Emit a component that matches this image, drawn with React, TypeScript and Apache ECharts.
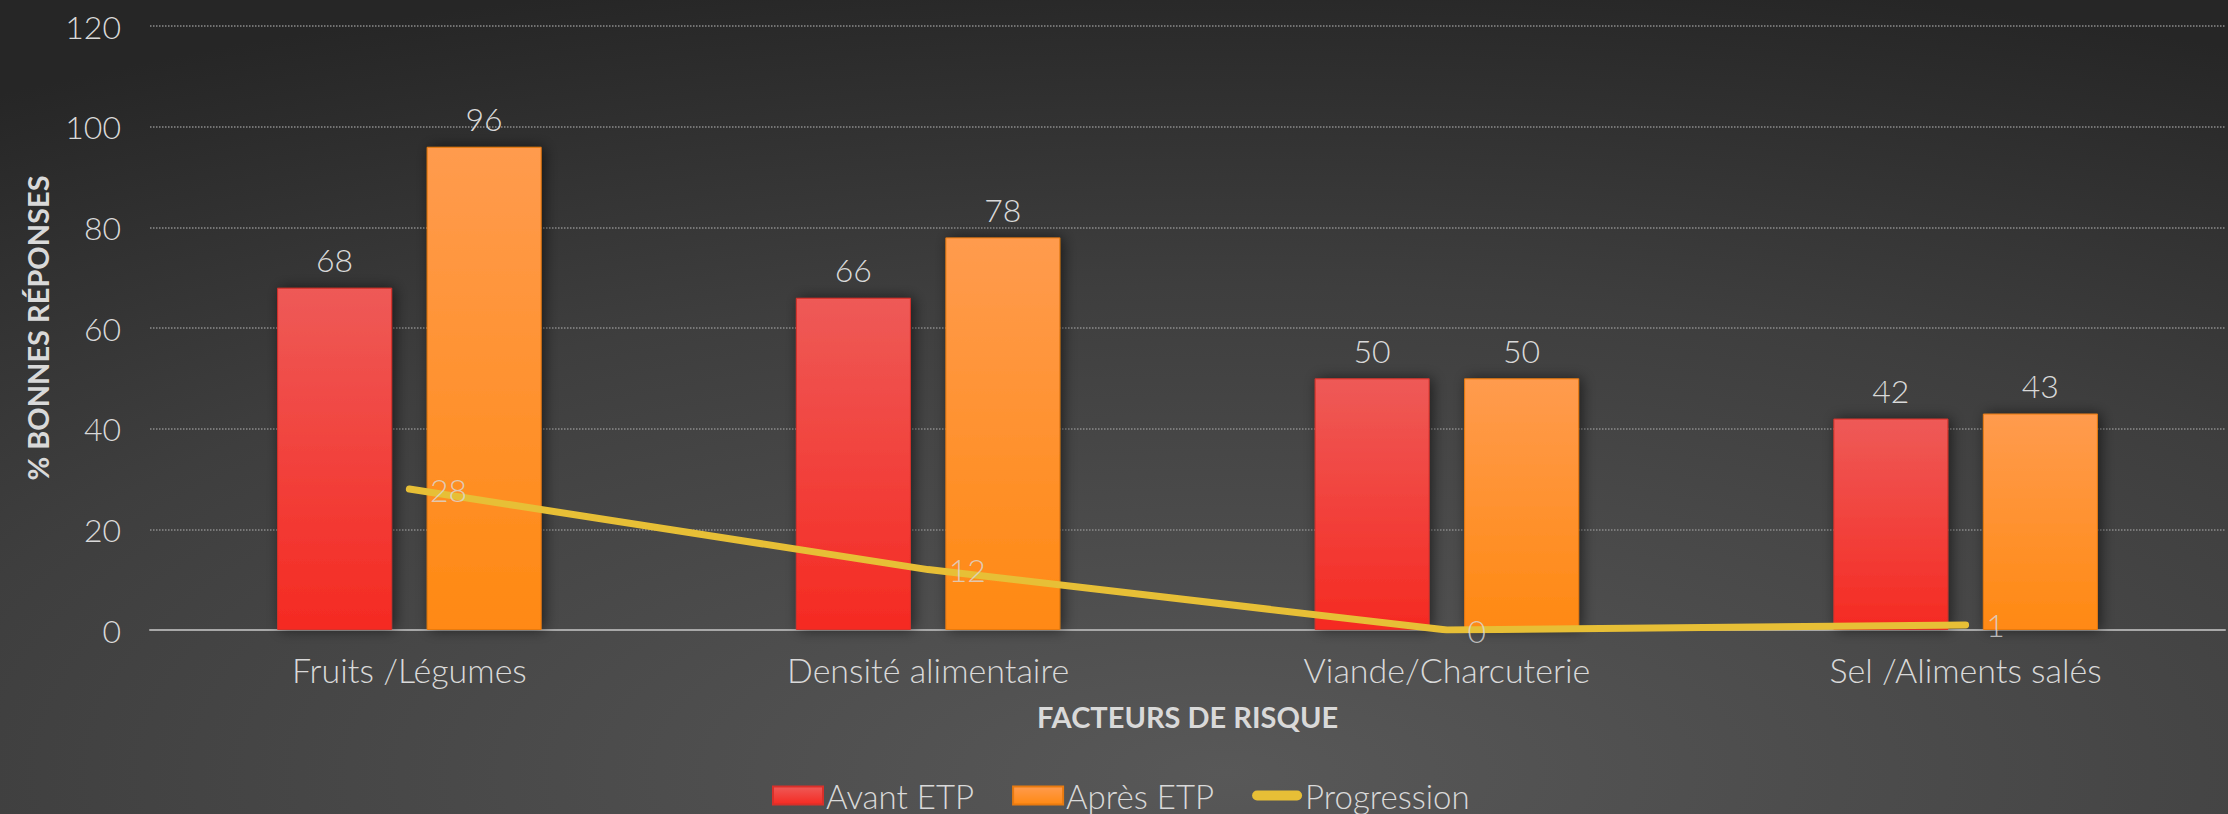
import React, { useEffect, useRef } from "react";
import * as echarts from "echarts";

const categories = ["Fruits /Légumes", "Densité alimentaire", "Viande/Charcuterie", "Sel /Aliments salés"];
const avantETP = [68, 66, 50, 42];
const apresETP = [96, 78, 50, 43];
const progression = [28, 12, 0, 1];
const yTicks = { min: 0, max: 120, interval: 20 };

const FONT = "Lato, 'Noto Sans', sans-serif";
const TXT = "#d9d9d9";
const LINE = "#E7BF36";
const LINE_ICON = "path://M5,0 L45,0 A5,5 0 0 1 45,10 L5,10 A5,5 0 0 1 5,0 Z";

export default function App() {
  const ref = useRef<HTMLDivElement>(null);
  useEffect(() => {
    document.body.style.margin = "0";
    const chart = echarts.init(ref.current!, null, { renderer: "svg" });
    const redGrad = new echarts.graphic.LinearGradient(0, 0, 0, 1, [
      { offset: 0, color: "#EE5A57" },
      { offset: 1, color: "#F52A22" },
    ]);
    const orangeGrad = new echarts.graphic.LinearGradient(0, 0, 0, 1, [
      { offset: 0, color: "#FF9B4E" },
      { offset: 1, color: "#FF8912" },
    ]);
    const lbl = { color: TXT, fontSize: 32, fontWeight: 300, fontFamily: FONT };
    chart.setOption({
      animation: false,
      backgroundColor: new echarts.graphic.RadialGradient(0.55, 0.95, 1.0, [
        { offset: 0, color: "#585858" },
        { offset: 0.6, color: "#3e3e3e" },
        { offset: 1, color: "#262626" },
      ]),
      textStyle: { fontFamily: FONT },
      grid: { left: 150, right: 3, top: 26, bottom: 184, containLabel: false },
      legend: {
        top: 774,
        left: 767,
        itemWidth: 50,
        itemHeight: 18,
        itemGap: 38,
        symbolKeepAspect: true,
        textStyle: { color: TXT, fontSize: 33, fontFamily: FONT, fontWeight: 300, padding: [0, 0, 0, -2] },
        data: [
          { name: "Avant ETP", icon: "rect" },
          { name: "Après ETP", icon: "rect" },
          { name: "Progression", icon: LINE_ICON, itemStyle: { color: LINE } },
        ],
      },
      xAxis: {
        type: "category",
        data: categories,
        name: "FACTEURS DE RISQUE",
        nameLocation: "middle",
        nameGap: 72,
        nameTextStyle: { color: TXT, fontSize: 29, fontWeight: "bold", fontFamily: FONT },
        axisLine: { show: true, lineStyle: { color: "#a8a8a8", width: 2 } },
        axisTick: { show: false },
        axisLabel: { ...lbl, fontSize: 34, margin: 22 },
      },
      yAxis: {
        type: "value",
        min: yTicks.min,
        max: yTicks.max,
        interval: yTicks.interval,
        name: "% BONNES RÉPONSES",
        nameLocation: "middle",
        nameGap: 98,
        nameTextStyle: { color: TXT, fontSize: 29, fontWeight: "bold", fontFamily: FONT },
        axisLine: { show: false },
        axisTick: { show: false },
        axisLabel: { ...lbl, margin: 29 },
        splitLine: { show: true, lineStyle: { color: "#8c8c8c", type: "dotted", width: 1.5 } },
      },
      series: [
        {
          name: "Avant ETP",
          type: "bar",
          data: avantETP,
          barWidth: 115,
          barGap: "30%",
          itemStyle: {
            color: redGrad,
            borderColor: "#d8302a",
            borderWidth: 1,
            shadowColor: "rgba(0,0,0,0.55)",
            shadowBlur: 14,
            shadowOffsetX: 3,
          },
          label: { show: true, position: "top", distance: 12, ...lbl },
          z: 2,
        },
        {
          name: "Après ETP",
          type: "bar",
          data: apresETP,
          barWidth: 115,
          barGap: "30%",
          itemStyle: {
            color: orangeGrad,
            borderColor: "#e87a10",
            borderWidth: 1,
            shadowColor: "rgba(0,0,0,0.55)",
            shadowBlur: 14,
            shadowOffsetX: 3,
          },
          label: { show: true, position: "top", distance: 12, ...lbl },
          z: 2,
        },
        {
          name: "Progression",
          type: "line",
          data: progression,
          symbol: "none",
          lineStyle: { color: LINE, width: 7, cap: "round", join: "round" },
          itemStyle: { color: LINE },
          z: 5,
        },
        {
          name: "ProgressionLabels",
          type: "scatter",
          data: progression,
          symbolSize: 1,
          itemStyle: { color: "rgba(0,0,0,0)" },
          label: { show: true, position: "right", distance: 20, ...lbl },
          z: 6,
        },
      ],
    });
    return () => chart.dispose();
  }, []);
  return <div ref={ref} style={{ width: 2228, height: 814 }} />;
}
